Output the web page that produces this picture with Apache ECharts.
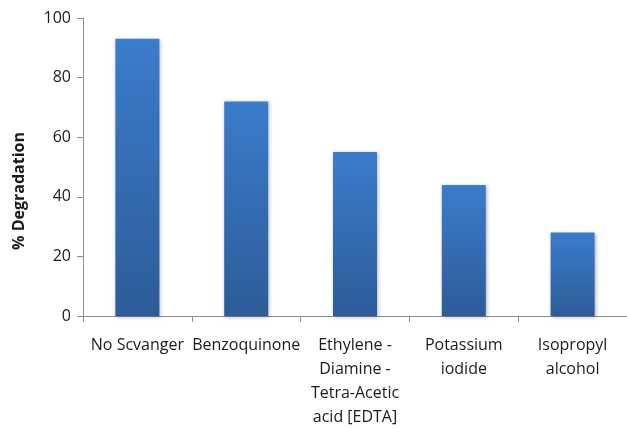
<!DOCTYPE html>
<html>
<head>
<meta charset="utf-8">
<script src="https://cdn.jsdelivr.net/npm/echarts@6/dist/echarts.min.js"></script>
<style>html,body{margin:0;padding:0;background:#fff}#c{width:627px;height:429px}</style>
</head>
<body>
<div id="c"></div>
<script>
const categories = ["No Scvanger", "Benzoquinone", "Ethylene -\nDiamine -\nTetra-Acetic\nacid [EDTA]", "Potassium\niodide", "Isopropyl\nalcohol"];
const degradation = [93, 72, 55, 44, 28];
const yTicks = [0, 20, 40, 60, 80, 100];
const yName = "% Degradation";

const chart = echarts.init(document.getElementById('c'), null, {renderer: 'canvas'});
const font = "'Open Sans', 'DejaVu Sans', sans-serif";
chart.setOption({
  animation: false,
  grid: {left: 83, top: 18, width: 547, bottom: 106, containLabel: false},
  xAxis: {
    type: 'category',
    data: categories,
    axisLine: {lineStyle: {color: '#8c8c8c', width: 1}},
    axisTick: {show: true, length: 6, lineStyle: {color: '#8c8c8c'}},
    axisLabel: {interval: 0, color: '#1a1a1a', fontSize: 16, fontFamily: font, margin: 17, lineHeight: 24}
  },
  yAxis: {
    type: 'value',
    min: yTicks[0], max: yTicks[yTicks.length - 1], interval: 20,
    name: yName,
    nameLocation: 'middle',
    nameRotate: 90,
    nameGap: 56,
    nameTextStyle: {fontSize: 16, fontWeight: 'bold', color: '#1a1a1a', fontFamily: font, padding: [0, 48, 0, 0]},
    axisLine: {show: true, lineStyle: {color: '#8c8c8c', width: 1}},
    axisTick: {show: true, length: 6, lineStyle: {color: '#8c8c8c'}},
    splitLine: {show: false},
    axisLabel: {color: '#1a1a1a', fontSize: 16, fontFamily: font, margin: 12}
  },
  series: [{
    type: 'bar',
    data: degradation,
    barWidth: 44,
    itemStyle: {
      color: new echarts.graphic.LinearGradient(0, 0, 0, 1, [
        {offset: 0, color: '#3b7ccb'},
        {offset: 1, color: '#2c5c98'}
      ]),
      shadowColor: 'rgba(0,0,0,0.3)',
      shadowBlur: 4,
      shadowOffsetX: 1,
      shadowOffsetY: 1
    }
  }]
});
</script>
</body>
</html>
